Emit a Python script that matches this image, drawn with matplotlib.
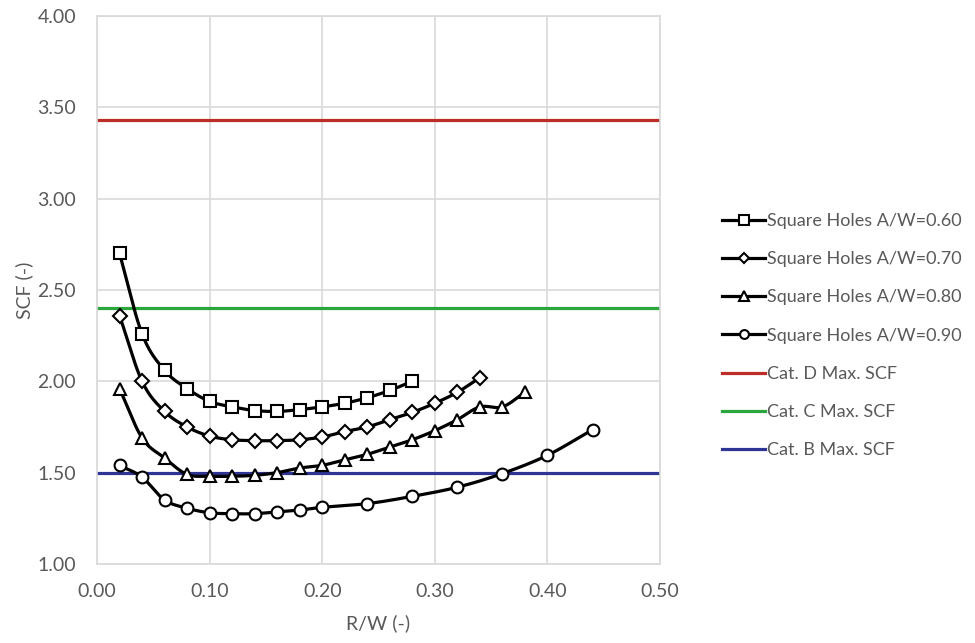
import numpy as np
import matplotlib
matplotlib.use("Agg")
from matplotlib import pyplot as plt

# data
x_060 = [0.02, 0.04, 0.06, 0.08, 0.10, 0.12, 0.14, 0.16, 0.18, 0.20, 0.22, 0.24, 0.26, 0.28]
scf_060 = [2.70, 2.26, 2.06, 1.96, 1.89, 1.86, 1.84, 1.835, 1.845, 1.86, 1.88, 1.91, 1.95, 2.00]

x_070 = [0.02, 0.04, 0.06, 0.08, 0.10, 0.12, 0.14, 0.16, 0.18, 0.20, 0.22, 0.24, 0.26, 0.28, 0.30, 0.32, 0.34]
scf_070 = [2.36, 2.00, 1.835, 1.75, 1.70, 1.68, 1.675, 1.675, 1.68, 1.695, 1.725, 1.75, 1.79, 1.83, 1.88, 1.94, 2.02]

x_080 = [0.02, 0.04, 0.06, 0.08, 0.10, 0.12, 0.14, 0.16, 0.18, 0.20, 0.22, 0.24, 0.26, 0.28, 0.30, 0.32, 0.34, 0.36, 0.38]
scf_080 = [1.96, 1.69, 1.58, 1.49, 1.48, 1.48, 1.485, 1.50, 1.525, 1.54, 1.57, 1.60, 1.64, 1.68, 1.73, 1.79, 1.86, 1.86, 1.94]

x_090 = [0.02, 0.04, 0.06, 0.08, 0.10, 0.12, 0.14, 0.16, 0.18, 0.20, 0.24, 0.28, 0.32, 0.36, 0.40, 0.44]
scf_090 = [1.54, 1.475, 1.35, 1.305, 1.28, 1.275, 1.275, 1.285, 1.295, 1.31, 1.33, 1.37, 1.42, 1.495, 1.595, 1.735]

cat_names = ["Cat. D Max. SCF", "Cat. C Max. SCF", "Cat. B Max. SCF"]
cat_values = [3.43, 2.40, 1.50]
cat_colors = ["#bd2c27", "#2aa63c", "#2f3592"]

series = [
    (x_060, scf_060, "s", "Square Holes A/W=0.60"),
    (x_070, scf_070, "D", "Square Holes A/W=0.70"),
    (x_080, scf_080, "^", "Square Holes A/W=0.80"),
    (x_090, scf_090, "o", "Square Holes A/W=0.90"),
]
marker_size = {"s": 9.0, "D": 7.0, "^": 9.0, "o": 8.5}


def smooth(x, y, n=20):
    # catmull-rom style smoothing, like excel's smoothed lines
    x = np.asarray(x, float)
    y = np.asarray(y, float)
    px = np.concatenate([[2 * x[0] - x[1]], x, [2 * x[-1] - x[-2]]])
    py = np.concatenate([[2 * y[0] - y[1]], y, [2 * y[-1] - y[-2]]])
    xs, ys = [], []
    t = np.linspace(0, 1, n, endpoint=False)
    for i in range(1, len(px) - 2):
        for p, out in ((px, xs), (py, ys)):
            p0, p1, p2, p3 = p[i - 1], p[i], p[i + 1], p[i + 2]
            out.extend(0.5 * ((2 * p1) + (-p0 + p2) * t + (2 * p0 - 5 * p1 + 4 * p2 - p3) * t ** 2
                              + (-p0 + 3 * p1 - 3 * p2 + p3) * t ** 3))
    xs.append(x[-1])
    ys.append(y[-1])
    return np.array(xs), np.array(ys)


plt.rcParams["font.family"] = ["Lato", "DejaVu Sans"]
grey = "#595959"
fs = 14

fig = plt.figure(figsize=(9.75, 6.43), dpi=100)
ax = fig.add_axes([0.0995, 0.123, 0.5775, 0.852])

handles = []
for x, y, m, name in series:
    sx, sy = smooth(x, y)
    ax.plot(sx, sy, color="black", lw=2.3, zorder=3)
    ax.plot(x, y, linestyle="none", marker=m, ms=marker_size[m], mfc="white",
            mec="black", mew=1.5, zorder=4)
    h, = ax.plot([], [], color="black", lw=2.3, marker=m, ms=marker_size[m] * 0.75,
                 mfc="white", mec="black", mew=1.5, label=name)
    handles.append(h)

for v, c, name in zip(cat_values, cat_colors, cat_names):
    h = ax.axhline(v, color=c, lw=2.3, zorder=2, label=name)
    handles.append(h)

ax.set_xlim(0, 0.5)
ax.set_ylim(1.0, 4.0)
ax.set_xticks(np.arange(0, 0.51, 0.1))
ax.set_yticks(np.arange(1.0, 4.01, 0.5))
ax.set_xticklabels(["%.2f" % v for v in np.arange(0, 0.51, 0.1)])
ax.set_yticklabels(["%.2f" % v for v in np.arange(1.0, 4.01, 0.5)])
ax.grid(True, color="#d9d9d9", lw=1.2, zorder=0)
ax.set_axisbelow(True)
for s in ax.spines.values():
    s.set_color("#d9d9d9")
    s.set_linewidth(1.2)
ax.tick_params(length=0, labelsize=fs, colors=grey)
ax.tick_params(axis="x", pad=14)
ax.tick_params(axis="y", pad=15)
ax.set_xlabel("R/W (-)", fontsize=fs, color=grey, labelpad=10)
ax.set_ylabel("SCF (-)", fontsize=fs, color=grey, labelpad=3)

fig.legend(handles=handles, loc="center left", bbox_to_anchor=(0.724, 0.478),
           frameon=False, fontsize=13, labelcolor=grey, handlelength=2.4,
           handletextpad=0.1, labelspacing=1.23)

fig.savefig("out.png", dpi=100)
